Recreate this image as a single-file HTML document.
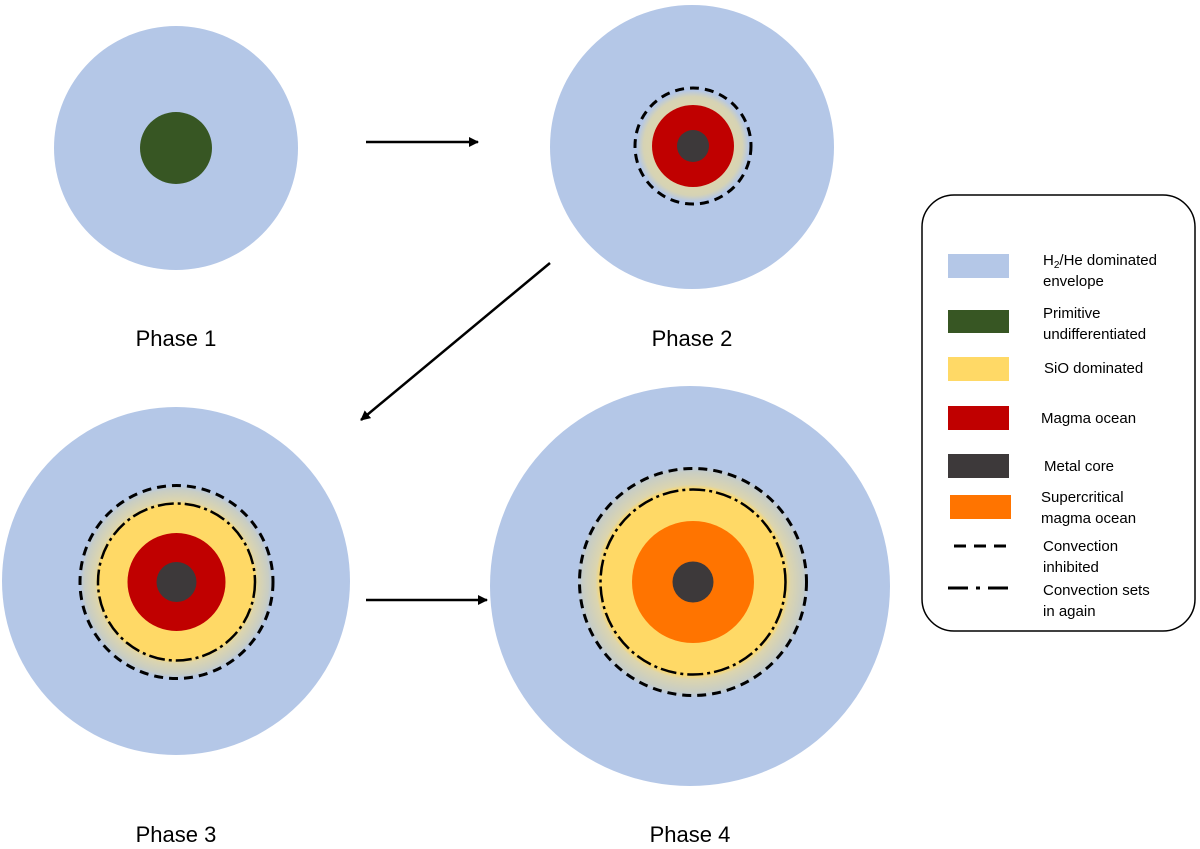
<!DOCTYPE html>
<html><head><meta charset="utf-8"><style>
body{margin:0;background:#fff;}
svg{display:block;font-family:"Liberation Sans",sans-serif;}
</style></head><body>
<svg width="1200" height="849" viewBox="0 0 1200 849">
<defs>
<marker id="ah" markerWidth="10" markerHeight="10" refX="9" refY="5" orient="auto" markerUnits="userSpaceOnUse"><path d="M0,0 L10,5 L0,10 z" fill="#000"/></marker>
<radialGradient id="g2" cx="0.5" cy="0.5" r="0.5"><stop offset="0.7" stop-color="#dcd5ae"/><stop offset="0.88" stop-color="#d6d3b4"/><stop offset="1" stop-color="#b4c7e7"/></radialGradient>
<radialGradient id="g3" cx="0.5" cy="0.5" r="0.5"><stop offset="0.8" stop-color="#ffd966"/><stop offset="0.84" stop-color="#dcd5ae"/><stop offset="0.95" stop-color="#c8cdc4"/><stop offset="1" stop-color="#b4c7e7"/></radialGradient>
</defs>
<!-- Phase 1 -->
<circle cx="176" cy="148" r="122" fill="#b4c7e7"/>
<circle cx="176" cy="148" r="36" fill="#375623"/>
<!-- Phase 2 -->
<circle cx="692" cy="147" r="142" fill="#b4c7e7"/>
<circle cx="693" cy="146" r="56" fill="url(#g2)"/>
<circle cx="693" cy="146" r="41" fill="#c00000"/>
<circle cx="693" cy="146" r="16" fill="#3d393a"/>
<circle cx="693" cy="146" r="58" fill="none" stroke="#000" stroke-width="3" stroke-dasharray="9,6"/>
<!-- Phase 3 -->
<circle cx="176" cy="581" r="174" fill="#b4c7e7"/>
<circle cx="176.5" cy="582" r="97" fill="url(#g3)"/>
<circle cx="176.5" cy="582" r="49" fill="#c00000"/>
<circle cx="176.5" cy="582" r="20" fill="#3d393a"/>
<circle cx="176.5" cy="582" r="96.5" fill="none" stroke="#000" stroke-width="3" stroke-dasharray="9,6"/>
<circle cx="176.5" cy="582" r="78.5" fill="none" stroke="#000" stroke-width="2.5" stroke-dasharray="16,4,3,4"/>
<!-- Phase 4 -->
<circle cx="690" cy="586" r="200" fill="#b4c7e7"/>
<circle cx="693" cy="582" r="116" fill="url(#g3)"/>
<circle cx="693" cy="582" r="61" fill="#ff7400"/>
<circle cx="693" cy="582" r="20.5" fill="#3d393a"/>
<circle cx="693" cy="582" r="113.5" fill="none" stroke="#000" stroke-width="3" stroke-dasharray="9,6"/>
<circle cx="693" cy="582" r="92.5" fill="none" stroke="#000" stroke-width="2.5" stroke-dasharray="16,4,3,4"/>
<!-- arrows -->
<line x1="366" y1="142" x2="478" y2="142" stroke="#000" stroke-width="2.5" marker-end="url(#ah)"/>
<line x1="550" y1="263" x2="361" y2="420" stroke="#000" stroke-width="2.5" marker-end="url(#ah)"/>
<line x1="366" y1="600" x2="487" y2="600" stroke="#000" stroke-width="2.5" marker-end="url(#ah)"/>
<!-- labels -->
<g font-size="22" text-anchor="middle" fill="#000">
<text x="176" y="346">Phase 1</text>
<text x="692" y="346">Phase 2</text>
<text x="176" y="842">Phase 3</text>
<text x="690" y="842">Phase 4</text>
</g>
<!-- legend -->
<rect x="922" y="195" width="273" height="436" rx="32" ry="32" fill="#fff" stroke="#000" stroke-width="1.5"/>
<rect x="948" y="254" width="61" height="24" fill="#b4c7e7"/>
<rect x="948" y="310" width="61" height="23" fill="#375623"/>
<rect x="948" y="357" width="61" height="24" fill="#ffd966"/>
<rect x="948" y="406" width="61" height="24" fill="#c00000"/>
<rect x="948" y="454" width="61" height="24" fill="#3d393a"/>
<rect x="950" y="495" width="61" height="24" fill="#ff7400"/>
<line x1="954" y1="546" x2="1006" y2="546" stroke="#000" stroke-width="3" stroke-dasharray="12,8"/>
<line x1="948" y1="588" x2="1014" y2="588" stroke="#000" stroke-width="3" stroke-dasharray="20,8,4,8"/>
<g font-size="15" fill="#000">
<text x="1043" y="265">H<tspan font-size="10" dy="3">2</tspan><tspan dy="-3">/He dominated</tspan></text>
<text x="1043" y="286">envelope</text>
<text x="1043" y="318">Primitive</text>
<text x="1043" y="339">undifferentiated</text>
<text x="1044" y="373">SiO dominated</text>
<text x="1041" y="423">Magma ocean</text>
<text x="1044" y="471">Metal core</text>
<text x="1041" y="502">Supercritical</text>
<text x="1041" y="523">magma ocean</text>
<text x="1043" y="551">Convection</text>
<text x="1043" y="572">inhibited</text>
<text x="1043" y="595">Convection sets</text>
<text x="1043" y="616">in again</text>
</g>
</svg>
</body></html>
